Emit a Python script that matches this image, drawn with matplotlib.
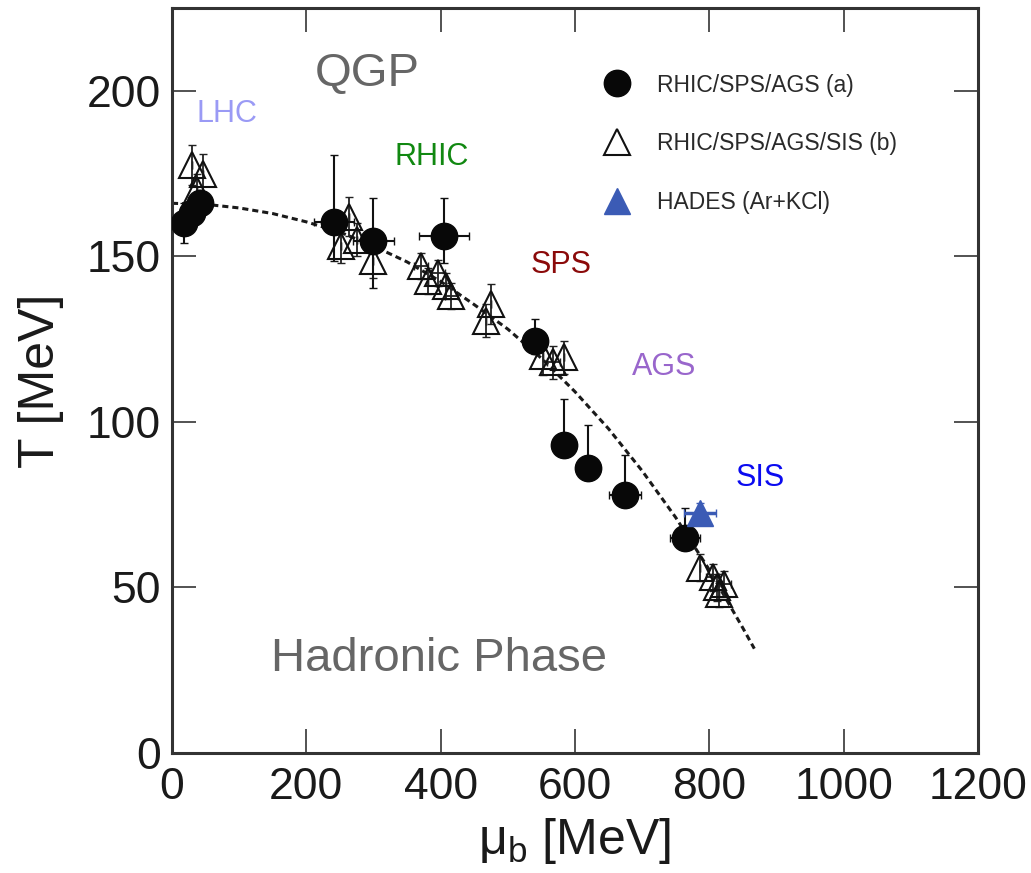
import matplotlib
matplotlib.use("Agg")
import matplotlib.pyplot as plt
import numpy as np

plt.rcParams["font.family"] = ["Liberation Sans", "DejaVu Sans"]
plt.rcParams["mathtext.fontset"] = "custom"
plt.rcParams["mathtext.rm"] = "Liberation Sans"
plt.rcParams["mathtext.it"] = "Liberation Sans"

# freeze-out points, set (a): filled circles
mu_a = [18, 30, 42, 241, 300, 405, 540, 583, 619, 674, 764]
T_a = [160, 163, 166, 160.5, 154.5, 156, 124.5, 93, 86, 78, 65]
T_a_lo = [6, 4, 4, 12, 14, 8, 4, 0, 0, 0, 0]
T_a_hi = [6, 4, 4, 20, 13, 11.5, 6.5, 14, 13, 12, 9]
mu_a_err = [0, 0, 0, 30, 30, 37, 12, 0, 0, 24, 22]

# set (b): open triangles
mu_b = [30, 46, 37, 251, 263, 276, 300, 371, 381, 396, 408, 416,
        468, 475, 553, 568, 583, 786, 805, 812, 822, 815]
T_b = [177.5, 175, 170, 153, 162, 155, 148.5, 147, 142.5, 145, 141, 138,
       130.5, 135.5, 120, 118, 119.5, 56, 53, 50, 51, 48]
T_b_err = [6, 6, 5, 5, 6, 5, 5, 4, 4, 4, 4, 4,
           5, 6, 6, 5, 5, 4, 4, 4, 4, 4]
mu_b_err = [0, 0, 0, 0, 0, 0, 0, 10, 0, 10, 0, 10,
            0, 0, 0, 10, 0, 0, 10, 0, 10, 0]

# HADES (Ar+KCl)
mu_h = [786]
T_h = [72.5]
T_h_err = [3]
mu_h_err = [24]

# freeze-out curve
mu_c = [0, 50, 100, 150, 200, 250, 300, 350, 400, 450, 500, 550, 600,
        650, 700, 750, 800, 850, 867]
T_c = [166, 165.7, 164.6, 162.9, 160.4, 157.3, 153.1, 148.3, 142.4, 135.4,
       128, 119.2, 109.1, 97.9, 85.2, 71.1, 55.3, 37.7, 31.5]

region_labels = ["LHC", "RHIC", "SPS", "AGS", "SIS"]
region_mu = [82, 386, 580, 732, 876]
region_T = [193, 180, 147.5, 116.5, 83]
region_colors = ["#9a9af5", "#118811", "#8b0a0a", "#9966cc", "#0b0bf0"]

fig = plt.figure(figsize=(10.31, 8.73), dpi=100)
ax = fig.add_axes([0.1668, 0.1375, 0.7818, 0.8534])

ax.plot(mu_c, T_c, color="#1a1a1a", lw=2.2, ls=(0, (2.0, 1.3)), zorder=1)

ax.errorbar(mu_b, T_b, yerr=T_b_err, xerr=mu_b_err, fmt="none",
            ecolor="#222222", elinewidth=1.3, capsize=3, zorder=2)
ax.plot(mu_b, T_b, "^", ms=19, mfc="none", mec="#111111", mew=1.5,
        label="RHIC/SPS/AGS/SIS (b)", zorder=3)

ax.errorbar(mu_a, T_a, yerr=[T_a_lo, T_a_hi], xerr=mu_a_err, fmt="none",
            ecolor="#111111", elinewidth=1.5, capsize=3, zorder=4)
ax.plot(mu_a, T_a, "o", ms=19, color="#080808", label="RHIC/SPS/AGS (a)",
        zorder=5)

ax.errorbar(mu_h, T_h, yerr=T_h_err, xerr=mu_h_err, fmt="none",
            ecolor="#3b5bb5", elinewidth=2.5, capsize=3, zorder=6)
ax.plot(mu_h, T_h, "^", ms=19, color="#3b5bb5", label="HADES (Ar+KCl)",
        zorder=7)

for lab, x, y, c in zip(region_labels, region_mu, region_T, region_colors):
    ax.text(x, y, lab, color=c, fontsize=22, ha="center", va="center")

ax.text(290, 205, "QGP", color="#666666", fontsize=34, ha="center", va="center")
ax.text(398, 28.5, "Hadronic Phase", color="#666666", fontsize=34,
        ha="center", va="center")

h, l = ax.get_legend_handles_labels()
order = [1, 0, 2]
leg = ax.legend([h[i] for i in order], [l[i] for i in order],
                loc="upper left", bbox_to_anchor=(0.538, 0.912),
                frameon=False, borderpad=0, borderaxespad=0,
                handlelength=1.0, handletextpad=1.25, labelspacing=1.55,
                fontsize=16.5)
for t in leg.get_texts():
    t.set_color("#2a2a2a")

ax.set_xlim(0, 1200)
ax.set_ylim(0, 225)
ax.set_xticks([0, 200, 400, 600, 800, 1000, 1200])
ax.set_yticks([0, 50, 100, 150, 200])
ax.tick_params(direction="in", length=17, width=1.3, top=True, right=True,
               labelsize=32, color="#444444", labelcolor="#1a1a1a")
ax.tick_params(axis="x", pad=10)
ax.tick_params(axis="y", pad=8)
for s in ax.spines.values():
    s.set_linewidth(2.2)
    s.set_color("#333333")

ax.set_xlabel("μ$_\\mathregular{b}$ [MeV]", fontsize=36, labelpad=6,
              color="#1a1a1a")
ax.set_ylabel("T [MeV]", fontsize=36, labelpad=16, color="#1a1a1a")

fig.savefig("out.png", dpi=100)
